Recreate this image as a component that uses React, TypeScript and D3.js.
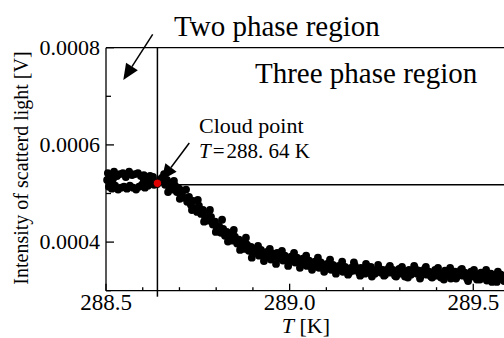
import React from 'react';
import * as d3 from 'd3';

// plateau below the cloud point (two phase side)
const plateauT = [
  288.505, 288.514, 288.522, 288.530, 288.538, 288.546, 288.554, 288.563, 288.571, 288.579, 288.587, 288.595, 288.603, 288.612, 288.620, 288.628,
  288.508, 288.516, 288.525, 288.533, 288.541, 288.549, 288.557, 288.565, 288.574, 288.582, 288.590, 288.598, 288.606, 288.614, 288.623, 288.631,
  288.503, 288.511, 288.519, 288.603, 288.614, 288.625, 288.647, 288.652,
];
const plateauV = [
  5.42e-4, 5.38e-4, 5.45e-4, 5.36e-4, 5.40e-4, 5.42e-4, 5.34e-4, 5.45e-4, 5.38e-4, 5.40e-4, 5.42e-4, 5.36e-4, 5.38e-4, 5.32e-4, 5.36e-4, 5.34e-4,
  5.14e-4, 5.10e-4, 5.16e-4, 5.08e-4, 5.12e-4, 5.14e-4, 5.10e-4, 5.16e-4, 5.12e-4, 5.08e-4, 5.14e-4, 5.18e-4, 5.12e-4, 5.16e-4, 5.20e-4, 5.18e-4,
  5.28e-4, 5.24e-4, 5.30e-4, 5.26e-4, 5.28e-4, 5.24e-4, 5.28e-4, 5.32e-4,
];

// decay above the cloud point, first sweep
const decayT = [
  288.655, 288.661, 288.666, 288.672, 288.677, 288.682, 288.688, 288.693, 288.699, 288.704, 288.710, 288.715, 288.721, 288.726, 288.731, 288.737,
  288.742, 288.748, 288.753, 288.759, 288.764, 288.770, 288.775, 288.780, 288.786, 288.791, 288.797, 288.802, 288.808, 288.813, 288.819, 288.824,
  288.829, 288.835, 288.840, 288.846, 288.851, 288.857, 288.862, 288.868, 288.873, 288.878, 288.884, 288.889, 288.895, 288.900, 288.906, 288.911,
  288.917, 288.922, 288.927, 288.933, 288.938, 288.944, 288.949, 288.955, 288.960, 288.966, 288.971, 288.976, 288.982, 288.987, 288.993, 288.998,
  289.004, 289.009, 289.015, 289.020, 289.025, 289.031, 289.036, 289.042, 289.047, 289.053, 289.058, 289.064, 289.069, 289.074, 289.080, 289.085,
  289.091, 289.096, 289.102, 289.107, 289.113, 289.118, 289.123, 289.129, 289.134, 289.140, 289.145, 289.151, 289.156, 289.162, 289.167, 289.172,
  289.178, 289.183, 289.189, 289.194, 289.200, 289.205, 289.211, 289.216, 289.221, 289.227, 289.232, 289.238, 289.243, 289.249, 289.254, 289.260,
  289.265, 289.270, 289.276, 289.281, 289.287, 289.292, 289.298, 289.303, 289.309, 289.314, 289.319, 289.325, 289.330, 289.336, 289.341, 289.347,
  289.352, 289.358, 289.363, 289.368, 289.374, 289.379, 289.385, 289.390, 289.396, 289.401, 289.407, 289.412, 289.417, 289.423, 289.428, 289.434,
  289.439, 289.445, 289.450, 289.456, 289.461, 289.466, 289.472, 289.477, 289.483, 289.488, 289.494, 289.499, 289.505, 289.510, 289.515, 289.521,
  289.526, 289.532, 289.537, 289.543, 289.548, 289.554, 289.559, 289.564, 289.570, 289.575, 289.581,
];
const decayV = [
  5.32e-4, 5.18e-4, 5.28e-4, 5.14e-4, 5.22e-4, 5.08e-4, 5.16e-4, 5.03e-4, 5.10e-4, 4.97e-4, 5.06e-4, 4.91e-4, 4.83e-4, 4.93e-4, 4.77e-4, 4.85e-4,
  4.70e-4, 4.62e-4, 4.75e-4, 4.58e-4, 4.66e-4, 4.50e-4, 4.58e-4, 4.44e-4, 4.52e-4, 4.36e-4, 4.42e-4, 4.27e-4, 4.33e-4, 4.19e-4, 4.27e-4, 4.13e-4,
  4.21e-4, 4.07e-4, 4.15e-4, 4.03e-4, 4.11e-4, 3.97e-4, 4.05e-4, 3.90e-4, 3.99e-4, 3.86e-4, 3.95e-4, 3.82e-4, 3.90e-4, 3.76e-4, 3.86e-4, 3.80e-4,
  3.72e-4, 3.84e-4, 3.76e-4, 3.68e-4, 3.80e-4, 3.72e-4, 3.64e-4, 3.76e-4, 3.70e-4, 3.78e-4, 3.66e-4, 3.74e-4, 3.62e-4, 3.72e-4, 3.66e-4, 3.60e-4,
  3.70e-4, 3.64e-4, 3.58e-4, 3.68e-4, 3.60e-4, 3.53e-4, 3.66e-4, 3.60e-4, 3.51e-4, 3.62e-4, 3.55e-4, 3.49e-4, 3.60e-4, 3.53e-4, 3.47e-4, 3.58e-4,
  3.51e-4, 3.45e-4, 3.55e-4, 3.49e-4, 3.43e-4, 3.53e-4, 3.47e-4, 3.41e-4, 3.51e-4, 3.45e-4, 3.39e-4, 3.49e-4, 3.43e-4, 3.37e-4, 3.47e-4, 3.41e-4,
  3.51e-4, 3.43e-4, 3.37e-4, 3.47e-4, 3.41e-4, 3.35e-4, 3.45e-4, 3.39e-4, 3.49e-4, 3.43e-4, 3.35e-4, 3.41e-4, 3.47e-4, 3.37e-4, 3.43e-4, 3.33e-4,
  3.41e-4, 3.47e-4, 3.37e-4, 3.43e-4, 3.31e-4, 3.39e-4, 3.45e-4, 3.35e-4, 3.41e-4, 3.29e-4, 3.37e-4, 3.43e-4, 3.33e-4, 3.39e-4, 3.47e-4, 3.35e-4,
  3.41e-4, 3.31e-4, 3.39e-4, 3.45e-4, 3.33e-4, 3.39e-4, 3.29e-4, 3.37e-4, 3.43e-4, 3.31e-4, 3.37e-4, 3.27e-4, 3.35e-4, 3.41e-4, 3.31e-4, 3.37e-4,
  3.25e-4, 3.33e-4, 3.39e-4, 3.29e-4, 3.35e-4, 3.43e-4, 3.31e-4, 3.37e-4, 3.25e-4, 3.33e-4, 3.39e-4, 3.29e-4, 3.35e-4, 3.23e-4, 3.31e-4, 3.37e-4,
  3.27e-4, 3.33e-4, 3.21e-4, 3.29e-4, 3.35e-4, 3.25e-4, 3.31e-4, 3.18e-4, 3.27e-4, 3.33e-4, 3.23e-4,
];

// decay, second sweep (wider scatter)
const sweepT = [
  288.658, 288.669, 288.685, 288.701, 288.718, 288.734, 288.750, 288.767, 288.783, 288.799, 288.816, 288.832, 288.848, 288.865, 288.881, 288.897,
  288.914, 288.930, 288.946, 288.963, 288.979, 288.996, 289.012, 289.028, 289.045, 289.061, 289.077, 289.094, 289.110, 289.126, 289.143, 289.159,
  289.175, 289.192, 289.208, 289.224, 289.241, 289.257, 289.273, 289.290, 289.306, 289.322, 289.339, 289.355, 289.371, 289.388, 289.404, 289.420,
  289.437, 289.453, 289.469, 289.486, 289.502, 289.518, 289.535, 289.551, 289.567, 289.584,
];
const sweepV = [
  5.40e-4, 5.03e-4, 5.26e-4, 4.89e-4, 5.08e-4, 4.66e-4, 4.87e-4, 4.42e-4, 4.66e-4, 4.21e-4, 4.46e-4, 4.01e-4, 4.25e-4, 3.84e-4, 4.09e-4, 3.68e-4,
  3.92e-4, 3.61e-4, 3.86e-4, 3.55e-4, 3.82e-4, 3.51e-4, 3.78e-4, 3.47e-4, 3.72e-4, 3.43e-4, 3.68e-4, 3.39e-4, 3.64e-4, 3.35e-4, 3.60e-4, 3.33e-4,
  3.58e-4, 3.31e-4, 3.55e-4, 3.29e-4, 3.53e-4, 3.31e-4, 3.51e-4, 3.29e-4, 3.49e-4, 3.27e-4, 3.51e-4, 3.25e-4, 3.49e-4, 3.27e-4, 3.47e-4, 3.23e-4,
  3.47e-4, 3.25e-4, 3.45e-4, 3.20e-4, 3.43e-4, 3.23e-4, 3.43e-4, 3.18e-4, 3.39e-4, 3.20e-4,
];

const cloudT = 288.64;
const cloudV = 5.21e-4;
const levelV = 5.18e-4;

const yTicks = [0.0004, 0.0006, 0.0008];
const yMinorTicks = [0.0003, 0.0005, 0.0007];
const xTicks = [288.5, 289.0, 289.5];
const xMinorTicks = [288.6, 288.7, 288.8, 288.9, 289.1, 289.2, 289.3, 289.4, 289.6];

const W = 504;
const H = 338;
const font = '"Liberation Serif", "Times New Roman", serif';

function arrow(x1: number, y1: number, x2: number, y2: number, len = 15, half = 6) {
  const a = Math.atan2(y2 - y1, x2 - x1);
  const bx = x2 - len * Math.cos(a);
  const by = y2 - len * Math.sin(a);
  const px = -Math.sin(a) * half;
  const py = Math.cos(a) * half;
  return {
    line: [x1, y1, bx, by],
    head: `${x2},${y2} ${bx + px},${by + py} ${bx - px},${by - py}`,
  };
}

export default function App() {
  const x = d3.scaleLinear().domain([288.5, 289.6]).range([106, 510]);
  const y = d3.scaleLinear().domain([0.0003, 0.0008]).range([290.7, 47.7]);
  const fmtY = d3.format('.4f');
  const fmtX = d3.format('.1f');

  const points = [
    ...plateauT.map((t, i) => [t, plateauV[i]]),
    ...decayT.map((t, i) => [t, decayV[i]]),
    ...sweepT.map((t, i) => [t, sweepV[i]]),
  ];

  const [x0, x1] = x.range();
  const [yb, yt] = y.range();
  const a1 = arrow(152.7, 34.3, 123.3, 80, 16, 7);
  const a2 = arrow(189.3, 143, x(cloudT) + 4, y(cloudV) - 3, 16, 7);

  return (
    <svg width={W} height={H} style={{ position: 'absolute', left: 0, top: 0, background: '#fff' }} fontFamily={font}>
      <rect width={W} height={H} fill="#fff" />
      {/* frame */}
      <g stroke="#000" strokeWidth={1.3} fill="none">
        <line x1={x0} x2={x0} y1={yt} y2={yb} />
        <line x1={x0} x2={x1} y1={yb} y2={yb} />
        <line x1={x0} x2={x1} y1={yt} y2={yt} />
        {yTicks.map(v => <line key={'y' + v} x1={x0} x2={x0 + 8} y1={y(v)} y2={y(v)} />)}
        {yMinorTicks.map(v => <line key={'ym' + v} x1={x0} x2={x0 + 5} y1={y(v)} y2={y(v)} />)}
        {xTicks.map(v => <line key={'x' + v} x1={x(v)} x2={x(v)} y1={yb} y2={yb - 7} />)}
        {xMinorTicks.map(v => <line key={'xm' + v} x1={x(v)} x2={x(v)} y1={yb} y2={yb - 3.5} />)}
      </g>
      {yTicks.map(v => (
        <text key={'yl' + v} x={x0 - 6} y={y(v) + 7} textAnchor="end" fontSize={22}>{fmtY(v)}</text>
      ))}
      {xTicks.map(v => (
        <text key={'xl' + v} x={x(v)} y={309.5} textAnchor="middle" fontSize={23}>{fmtX(v)}</text>
      ))}
      <text x={281.7} y={333} fontSize={22}>
        <tspan fontStyle="italic">T</tspan> [K]
      </text>
      <text transform={`translate(28,168) rotate(-90)`} textAnchor="middle" fontSize={20}>
        Intensity of scatterd light [V]
      </text>

      {/* data */}
      <g fill="#000">
        {points.map(([t, v], i) => <circle key={i} cx={x(t)} cy={y(v)} r={3.9} />)}
      </g>

      {/* cloud point guides */}
      <g stroke="#000" strokeWidth={1.5}>
        <line x1={x(cloudT)} x2={x(cloudT)} y1={yt} y2={yb + 6} />
        <line x1={x(cloudT)} x2={x1} y1={y(levelV)} y2={y(levelV)} />
      </g>
      <circle cx={x(cloudT)} cy={y(cloudV)} r={4.2} fill="#e00000" stroke="#000" strokeWidth={1} />

      {/* annotations */}
      <g stroke="#000" strokeWidth={1.5}>
        <line x1={a1.line[0]} y1={a1.line[1]} x2={a1.line[2]} y2={a1.line[3]} />
        <line x1={a2.line[0]} y1={a2.line[1]} x2={a2.line[2]} y2={a2.line[3]} />
      </g>
      <polygon points={a1.head} fill="#000" />
      <polygon points={a2.head} fill="#000" />
      <text x={174} y={36} fontSize={29}>Two phase region</text>
      <text x={255} y={83} fontSize={29}>Three phase region</text>
      <text x={199} y={133} fontSize={22}>Cloud point</text>
      <text x={199} y={158} fontSize={21}>
        <tspan fontStyle="italic">T</tspan>
        <tspan dx={2}>=</tspan>
        <tspan dx={2}>288. 64 K</tspan>
      </text>
    </svg>
  );
}
